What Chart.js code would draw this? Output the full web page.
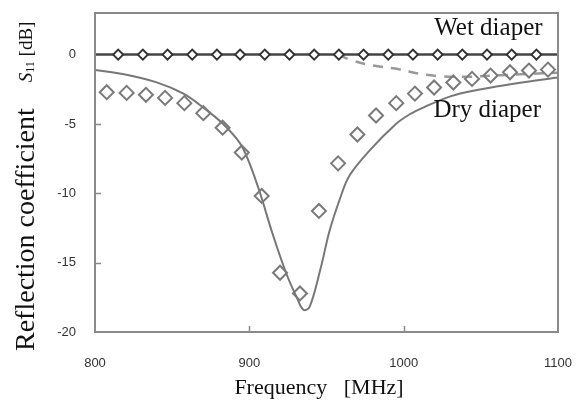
<!DOCTYPE html>
<html>
<head>
<meta charset="utf-8">
<script src="https://cdn.jsdelivr.net/npm/chart.js@4.4.1/dist/chart.umd.min.js"></script>
<style>
  html, body { margin: 0; padding: 0; background: #fff; }
  #wrap { width: 585px; height: 401px; }
</style>
</head>
<body>
<div id="wrap"><canvas id="chart-s11" width="585" height="401"></canvas></div>
<script>
// Tick labels
const xTicks = [800, 900, 1000, 1100];
const yTicks = [0, -5, -10, -15, -20];

// Wet diaper - measured points (diamonds)
const wetMeasFreq = [815, 831, 847, 863, 879, 894, 910, 926, 942, 958, 974, 990, 1006, 1022, 1038, 1054, 1070, 1086];
const wetMeasS11 = [0, 0, 0, 0, 0, 0, 0, 0, 0, 0, 0, 0, 0, 0, 0, 0, 0, 0];

// Wet diaper - simulated (solid dark line)
const wetSimFreq = [800, 1100];
const wetSimS11 = [0, 0];

// Dashed curve
const dashFreq = [958, 966, 980, 997, 1010, 1024, 1040, 1060, 1080, 1100];
const dashS11 = [0, -0.4, -0.78, -1.05, -1.38, -1.56, -1.6, -1.5, -1.4, -1.3];

// Dry diaper - measured points (diamonds)
const dryMeasFreq = [807.6, 820.5, 833, 845.4, 857.9, 870.2, 882.7, 895.1, 908, 919.9, 932.8, 945.1,
                     957.5, 970, 982.1, 995.2, 1007.3, 1019.7, 1032.2, 1044.3, 1056.3, 1068.9, 1081.2, 1093.5];
const dryMeasS11 = [-2.71, -2.76, -2.9, -3.12, -3.5, -4.22, -5.27, -7.06, -10.19, -15.73, -17.22, -11.27,
                    -7.84, -5.76, -4.39, -3.5, -2.81, -2.37, -2.01, -1.75, -1.51, -1.27, -1.15, -1.08];

// Dry diaper - simulated (solid gray curve)
const drySimFreq = [800, 818, 840, 857, 870, 883, 894, 900, 907, 915, 924, 930.7, 935, 939, 946, 952,
                    959, 965, 978, 995, 1004, 1013, 1028, 1041, 1060, 1080, 1100];
const drySimS11 = [-1.1, -1.4, -2.0, -2.8, -3.8, -5.0, -6.4, -7.8, -10.0, -12.9, -15.8, -17.5, -18.4, -18.2, -15.5, -12.7,
                   -10.3, -8.7, -6.9, -5.0, -4.3, -3.8, -3.1, -2.7, -2.3, -1.95, -1.65];

// Curve labels (data coordinates, right aligned)
const curveLabels = [
    { text: 'Wet diaper', x: 1090, y: 1.87 },
    { text: 'Dry diaper', x: 1089, y: -4.03 }
];

function toPoints(xs, ys) {
    return xs.map((x, i) => ({ x: x, y: ys[i] }));
}

function noScalePadding(s) {
    s.paddingLeft = 0;
    s.paddingRight = 0;
    s.paddingTop = 0;
    s.paddingBottom = 0;
}

const serif = '"Liberation Serif", "Times New Roman", serif';

// Frame, inward ticks, titles and labels
const decorPlugin = {
    id: 'decor',
    afterDraw(chart) {
        const ctx = chart.ctx;
        const area = chart.chartArea;
        const xs = chart.scales.x;
        const ys = chart.scales.y;

        ctx.save();
        ctx.strokeStyle = '#8a8a8a';
        ctx.lineWidth = 2;
        ctx.strokeRect(area.left, area.top, area.right - area.left, area.bottom - area.top);

        // inward tick marks
        ctx.lineWidth = 1.5;
        ctx.beginPath();
        xTicks.slice(1, -1).forEach(v => {
            const px = Math.round(xs.getPixelForValue(v)) + 0.5;
            ctx.moveTo(px, area.bottom);
            ctx.lineTo(px, area.bottom - 6);
        });
        yTicks.slice(1, -1).forEach(v => {
            const py = Math.round(ys.getPixelForValue(v)) + 0.5;
            ctx.moveTo(area.left, py);
            ctx.lineTo(area.left + 6, py);
        });
        ctx.stroke();

        ctx.fillStyle = '#111';

        // curve labels
        ctx.font = '25px ' + serif;
        ctx.textAlign = 'right';
        ctx.textBaseline = 'middle';
        curveLabels.forEach(l => {
            ctx.fillText(l.text, xs.getPixelForValue(l.x), ys.getPixelForValue(l.y));
        });

        // x title
        ctx.font = '22px ' + serif;
        ctx.textAlign = 'center';
        ctx.fillText('Frequency   [MHz]', 319, 388);

        // y title (rotated)
        ctx.translate(27, 351);
        ctx.rotate(-Math.PI / 2);
        ctx.textAlign = 'left';
        let pos = 0;
        ctx.font = '28px ' + serif;
        ctx.fillText('Reflection coefficient', pos, 0);
        pos += ctx.measureText('Reflection coefficient').width + 26;
        ctx.font = 'italic 19px ' + serif;
        ctx.fillText('S', pos, 0);
        pos += ctx.measureText('S').width;
        ctx.font = '12px ' + serif;
        ctx.fillText('11', pos, 4);
        pos += ctx.measureText('11').width;
        ctx.font = '19px ' + serif;
        ctx.fillText(' [dB]', pos, 0);
        ctx.restore();
    }
};

document.addEventListener('DOMContentLoaded', () => {
    const ctx = document.getElementById('chart-s11').getContext('2d');
    new Chart(ctx, {
        type: 'scatter',
        data: {
            datasets: [
                {
                    // wet measured
                    data: toPoints(wetMeasFreq, wetMeasS11),
                    pointStyle: 'rectRot',
                    pointRadius: 5,
                    pointBorderWidth: 2,
                    pointBorderColor: '#333',
                    pointBackgroundColor: '#fff',
                    showLine: false
                },
                {
                    // wet simulated
                    data: toPoints(wetSimFreq, wetSimS11),
                    showLine: true,
                    borderColor: '#444',
                    borderWidth: 2.5,
                    pointRadius: 0
                },
                {
                    // dry measured
                    data: toPoints(dryMeasFreq, dryMeasS11),
                    pointStyle: 'rectRot',
                    pointRadius: 7,
                    pointBorderWidth: 2,
                    pointBorderColor: '#7a7a7a',
                    pointBackgroundColor: 'rgba(255,255,255,0)',
                    showLine: false
                },
                {
                    // dashed
                    data: toPoints(dashFreq, dashS11),
                    showLine: true,
                    borderColor: '#999',
                    borderWidth: 2.5,
                    borderDash: [10, 8],
                    tension: 0.4,
                    pointRadius: 0
                },
                {
                    // dry simulated
                    data: toPoints(drySimFreq, drySimS11),
                    showLine: true,
                    borderColor: '#777',
                    borderWidth: 2,
                    tension: 0.35,
                    pointRadius: 0
                }
            ]
        },
        options: {
            responsive: false,
            animation: false,
            events: [],
            layout: { padding: { top: 13, right: 27, left: 0, bottom: 0 } },
            plugins: {
                legend: { display: false },
                tooltip: { enabled: false }
            },
            scales: {
                x: {
                    type: 'linear',
                    min: 800,
                    max: 1100,
                    afterBuildTicks: s => { s.ticks = xTicks.map(v => ({ value: v })); },
                    afterFit: s => { s.height = 69; noScalePadding(s); },
                    grid: { display: false, drawTicks: false },
                    border: { display: false },
                    ticks: {
                        padding: 24,
                        color: '#333',
                        callback: v => String(v),
                        font: { family: '"Liberation Sans", Arial, sans-serif', size: 13 }
                    }
                },
                y: {
                    type: 'linear',
                    min: -20,
                    max: 3,
                    afterBuildTicks: s => { s.ticks = yTicks.map(v => ({ value: v })); },
                    afterFit: s => { s.width = 95; noScalePadding(s); },
                    grid: { display: false, drawTicks: false },
                    border: { display: false },
                    ticks: {
                        padding: 19,
                        color: '#333',
                        callback: v => String(v),
                        font: { family: '"Liberation Sans", Arial, sans-serif', size: 13 }
                    }
                }
            }
        },
        plugins: [decorPlugin]
    });
});
</script>
</body>
</html>
